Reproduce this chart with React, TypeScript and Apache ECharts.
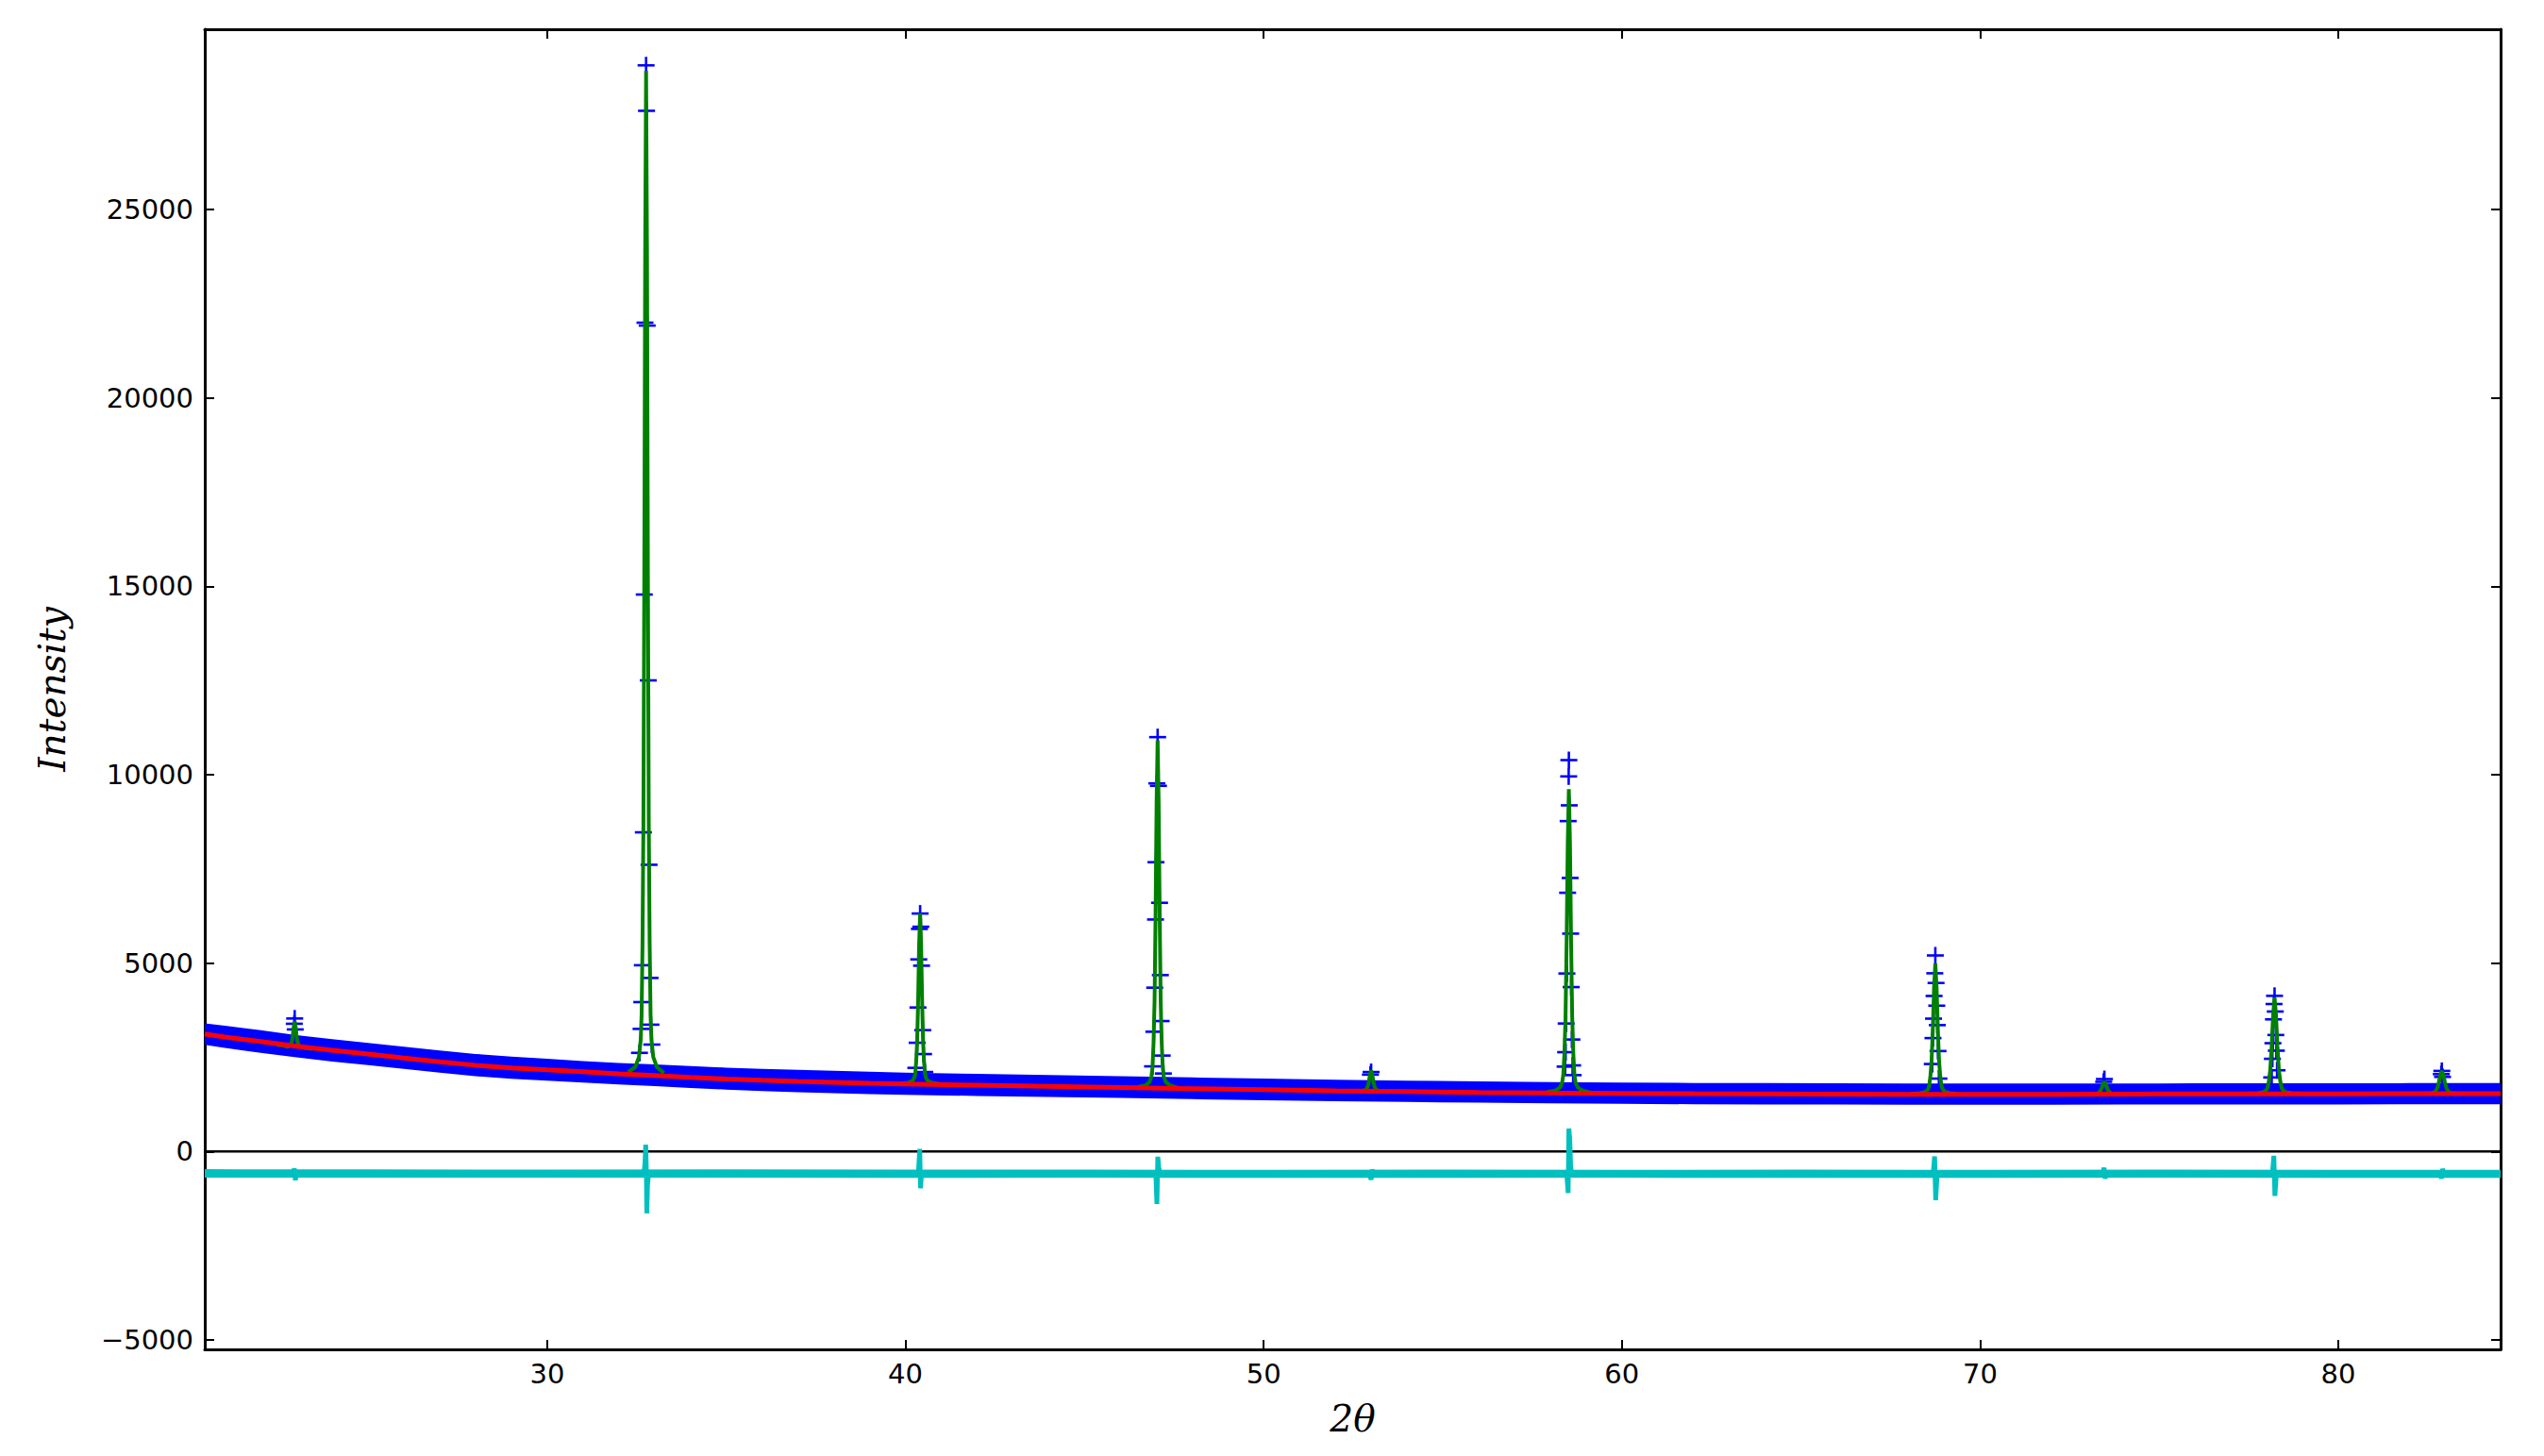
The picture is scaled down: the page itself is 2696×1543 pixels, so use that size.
import { useEffect, useRef } from 'react';
import * as echarts from 'echarts';

// ---------- axis ranges ----------
const X_MIN = 20.44;
const X_MAX = 84.53;
const Y_MIN = -5250;
const Y_MAX = 29780;

// ---------- background (red) ----------
const bgX = [20.44, 21, 22, 23, 24, 25, 26, 27, 28, 29, 30, 31, 32, 33, 34, 35, 36, 37, 38, 39, 40, 42, 44, 46, 48, 50, 52, 54, 56, 58, 60, 62, 64, 66, 68, 70, 72, 74, 76, 78, 80, 82, 84.53];
const bgY = [3120, 3040, 2920, 2795, 2685, 2585, 2480, 2380, 2290, 2220, 2165, 2115, 2060, 2015, 1965, 1925, 1890, 1860, 1835, 1810, 1790, 1760, 1730, 1700, 1670, 1640, 1610, 1590, 1570, 1555, 1545, 1535, 1530, 1525, 1520, 1520, 1520, 1525, 1530, 1530, 1530, 1535, 1535];

// ---------- observed (blue) : dense noisy band envelope ----------
const bandX = [20.44, 21, 22, 23, 24, 25, 26, 27, 28, 29, 30, 31, 32, 33, 34, 35, 36, 37, 38, 39, 40, 42, 44, 46, 48, 50, 52, 54, 56, 58, 60, 62, 64, 66, 68, 70, 72, 74, 76, 78, 80, 82, 84, 84.53];
const bandHi = [3400, 3340, 3220, 3090, 2980, 2880, 2780, 2680, 2590, 2520, 2460, 2400, 2350, 2310, 2270, 2225, 2190, 2165, 2145, 2120, 2095, 2060, 2030, 2000, 1965, 1935, 1905, 1880, 1860, 1845, 1830, 1820, 1815, 1810, 1805, 1805, 1805, 1805, 1810, 1810, 1810, 1815, 1815, 1815];
const bandLo = [2830, 2750, 2620, 2500, 2390, 2290, 2190, 2090, 2000, 1930, 1880, 1830, 1780, 1735, 1685, 1645, 1605, 1575, 1550, 1525, 1505, 1475, 1450, 1420, 1390, 1360, 1335, 1315, 1295, 1280, 1265, 1255, 1250, 1245, 1240, 1240, 1240, 1245, 1250, 1250, 1250, 1255, 1255, 1255];

// ---------- observed (blue +) points at the peaks ----------
const obsPeakX = [
  22.95, 22.94, 22.965,
  32.76, 32.772, 32.729, 32.791, 32.709, 32.82, 32.684, 32.843, 32.655, 32.87, 32.64, 32.895, 32.62, 32.92, 32.575,
  40.41, 40.429, 40.39, 40.371, 40.45, 40.35, 40.484, 40.326, 40.506, 40.29, 40.54,
  47.04, 47.017, 47.063, 46.994, 47.094, 46.981, 47.116, 46.959, 47.138, 46.935, 47.168, 46.898, 47.2,
  53.0, 52.98,
  58.52, 58.515, 58.53, 58.5, 58.555, 58.485, 58.57, 58.465, 58.585, 58.445, 58.605, 58.43, 58.625, 58.415, 58.64,
  68.75, 68.735, 68.77, 68.715, 68.79, 68.7, 68.805, 68.685, 68.825, 68.665, 68.85,
  73.47, 73.45,
  78.22, 78.205, 78.24, 78.19, 78.255, 78.175, 78.27, 78.16, 78.29, 78.14,
  82.89, 82.875, 82.91,
];
const obsPeakY = [
  3530, 3390, 3240,
  28822, 27616, 21994, 21917, 14780, 12502, 8470, 7609, 4943, 4606, 3965, 3366, 3254, 2838, 2618,
  6315, 5965, 5907, 5098, 4931, 3822, 3221, 2886, 2586, 2220, 2110,
  10996, 9769, 9704, 7677, 6600, 6157, 4681, 4348, 3462, 3179, 2546, 2260, 2070,
  2110, 2040,
  10387, 9954, 9186, 8768, 7259, 6866, 5782, 4724, 4363, 3397, 2972, 2636, 2286, 2253, 2027,
  5203, 4730, 4472, 4128, 3870, 3526, 3354, 3010, 2666, 2322, 1935,
  1923, 1850,
  4131, 3914, 3715, 3507, 3092, 2875, 2676, 2460, 2156, 1966,
  2139, 2053, 1980,
];

// ---------- calculated (green) peaks ----------
const calcP1 = [[22.45, 2830], [22.65, 2810], [22.75, 2782], [22.8, 2794], [22.825, 2811], [22.85, 2858], [22.875, 2939], [22.9, 3109], [22.925, 3325], [22.95, 3447], [22.975, 3325], [23.0, 3109], [23.025, 2939], [23.05, 2858], [23.075, 2811], [23.1, 2794], [23.15, 2770], [23.25, 2745], [23.45, 2725]];
const calcP2 = [[32.26, 2110], [32.46, 2243], [32.56, 2510], [32.61, 2963], [32.635, 3629], [32.66, 5495], [32.685, 8693], [32.71, 15355], [32.735, 23883], [32.76, 28680], [32.785, 23883], [32.81, 15355], [32.835, 8693], [32.86, 5495], [32.885, 3629], [32.91, 2963], [32.96, 2510], [33.06, 2243], [33.26, 2080]];
const calcP3 = [[39.86, 1804], [40.08, 1826], [40.19, 1872], [40.245, 1949], [40.2725, 2062], [40.3, 2380], [40.3275, 2924], [40.355, 4058], [40.3825, 5509], [40.41, 6325], [40.4375, 5509], [40.465, 4058], [40.4925, 2924], [40.52, 2380], [40.5475, 2062], [40.575, 1949], [40.63, 1872], [40.74, 1826], [40.96, 1790]];
const calcP4 = [[46.47, 1708], [46.698, 1754], [46.812, 1846], [46.869, 2003], [46.8975, 2234], [46.926, 2880], [46.9545, 3988], [46.983, 6297], [47.0115, 9251], [47.04, 10913], [47.0685, 9251], [47.097, 6297], [47.1255, 3988], [47.154, 2880], [47.1825, 2234], [47.211, 2003], [47.268, 1846], [47.382, 1754], [47.61, 1690]];
const calcP5 = [[52.76, 1615], [52.82, 1624], [52.85, 1638], [52.88, 1676], [52.91, 1741], [52.94, 1878], [52.97, 2052], [53.0, 2150], [53.03, 2052], [53.06, 1878], [53.09, 1741], [53.12, 1676], [53.15, 1638], [53.18, 1624], [53.24, 1610]];
const calcP6 = [[57.9, 1579], [58.148, 1619], [58.272, 1700], [58.334, 1837], [58.365, 2039], [58.396, 2603], [58.427, 3570], [58.458, 5585], [58.489, 8163], [58.52, 9614], [58.551, 8163], [58.582, 5585], [58.613, 3570], [58.644, 2603], [58.675, 2039], [58.706, 1837], [58.768, 1700], [58.892, 1619], [59.14, 1560]];
const calcP7 = [[68.05, 1530], [68.33, 1548], [68.47, 1582], [68.54, 1641], [68.575, 1728], [68.61, 1971], [68.645, 2387], [68.68, 3254], [68.715, 4364], [68.75, 4988], [68.785, 4364], [68.82, 3254], [68.855, 2387], [68.89, 1971], [68.925, 1728], [68.96, 1641], [69.03, 1582], [69.17, 1548], [69.45, 1525]];
const calcP8 = [[73.17, 1531], [73.245, 1536], [73.283, 1545], [73.32, 1568], [73.358, 1607], [73.395, 1689], [73.433, 1794], [73.47, 1853], [73.508, 1794], [73.545, 1689], [73.583, 1607], [73.62, 1568], [73.658, 1545], [73.695, 1536], [73.77, 1531]];
const calcP9 = [[77.42, 1538], [77.74, 1550], [77.9, 1576], [77.98, 1620], [78.02, 1683], [78.06, 1863], [78.1, 2170], [78.14, 2809], [78.18, 3628], [78.22, 4088], [78.26, 3628], [78.3, 2809], [78.34, 2170], [78.38, 1863], [78.42, 1683], [78.46, 1620], [78.54, 1576], [78.7, 1550], [79.02, 1535]];
const calcP10 = [[82.38, 1540], [82.55, 1546], [82.635, 1556], [82.678, 1571], [82.72, 1614], [82.763, 1686], [82.805, 1837], [82.848, 2030], [82.89, 2139], [82.933, 2030], [82.975, 1837], [83.018, 1686], [83.06, 1614], [83.103, 1571], [83.145, 1556], [83.23, 1546], [83.4, 1538]];
const calcPeaks = [calcP1, calcP2, calcP3, calcP4, calcP5, calcP6, calcP7, calcP8, calcP9, calcP10];

// ---------- difference (cyan) ----------
const diffBandX = [20.44, 25, 30, 35, 40, 45, 50, 55, 60, 65, 70, 75, 80, 84.53];
const diffHi = [-470, -475, -480, -475, -480, -480, -485, -480, -485, -480, -485, -480, -485, -485];
const diffLo = [-690, -695, -690, -695, -700, -695, -700, -700, -695, -700, -700, -695, -700, -700];
const diffX = [20.44, 22.9, 22.94, 22.97, 23.0, 32.7, 32.73, 32.75, 32.765, 32.78, 32.8, 32.83, 40.36, 40.4, 40.42, 40.45, 46.99, 47.02, 47.045, 47.07, 47.1, 52.96, 53.0, 53.03, 53.06, 58.46, 58.5, 58.52, 58.545, 58.57, 58.6, 68.69, 68.73, 68.76, 68.8, 73.43, 73.46, 73.49, 73.52, 78.16, 78.2, 78.23, 78.27, 82.85, 82.88, 82.91, 82.95, 84.53];
const diffY = [-590, -590, -450, -760, -590, -590, -300, 180, -400, -1640, -900, -590, -590, 70, -976, -590, -590, -1394, -140, -400, -590, -590, -750, -480, -590, -590, -1100, 610, 340, -400, -590, -590, -130, -1290, -590, -590, -430, -720, -590, -590, -113, -1178, -590, -590, -720, -460, -590, -590];

// ---------- zero line ----------
const zeroX = [X_MIN, X_MAX];
const zeroY = [0, 0];

const zip = (xs: number[], ys: number[]) => xs.map((x, i) => [x, ys[i]]);

function bandRender(xs: number[], hi: number[], lo: number[], color: string) {
  return (_params: any, api: any) => {
    const pts: number[][] = [];
    for (let i = 0; i < xs.length; i++) pts.push(api.coord([xs[i], hi[i]]));
    for (let i = xs.length - 1; i >= 0; i--) pts.push(api.coord([xs[i], lo[i]]));
    return { type: 'polygon', shape: { points: pts }, style: { fill: color } };
  };
}

const FONT = 'DejaVu Sans';
const MATH_FONT = 'DejaVu Serif';

const fmtX = (v: number) => (Math.abs(v % 10) < 1e-9 ? String(v) : '');
const fmtY = (v: number) => {
  if (Math.abs(v % 5000) > 1e-6) return '';
  return v < 0 ? '\u2212' + Math.abs(v) : String(v);
};

export default function App() {
  const ref = useRef<HTMLDivElement>(null);
  useEffect(() => {
    if (!ref.current) return;
    const chart = echarts.init(ref.current, undefined, { renderer: 'svg' });
    const axisLine = { show: true, onZero: false, lineStyle: { color: '#000', width: 3 } };
    const axisTick = { show: true, inside: true, length: 10, lineStyle: { color: '#000', width: 2 } };
    const xCommon = { type: 'value', min: X_MIN, max: X_MAX, splitNumber: 6, splitLine: { show: false }, axisLine, axisTick };
    const yCommon = { type: 'value', min: Y_MIN, max: Y_MAX, splitNumber: 7, splitLine: { show: false }, axisLine, axisTick };
    const option: any = {
      animation: false,
      backgroundColor: '#ffffff',
      grid: { left: 217, right: 46, top: 31, bottom: 113, containLabel: false, outerBoundsMode: 'none' },
      xAxis: [
        {
          ...xCommon,
          position: 'bottom',
          axisLabel: { formatter: fmtX, fontSize: 29, color: '#000', fontFamily: FONT, margin: 11, showMinLabel: false, showMaxLabel: false },
          name: '2θ',
          nameLocation: 'middle',
          nameGap: 54,
          nameTextStyle: { fontSize: 39, fontStyle: 'italic', fontFamily: MATH_FONT, color: '#000' },
        },
        { ...xCommon, position: 'top', axisLabel: { show: false } },
      ],
      yAxis: [
        {
          ...yCommon,
          position: 'left',
          axisLabel: { formatter: fmtY, fontSize: 29, color: '#000', fontFamily: FONT, margin: 12, showMinLabel: false, showMaxLabel: false },
          name: 'Intensity',
          nameLocation: 'middle',
          nameGap: 142,
          nameRotate: 90,
          nameTextStyle: { fontSize: 39, fontStyle: 'italic', fontFamily: MATH_FONT, color: '#000' },
        },
        { ...yCommon, position: 'right', axisLabel: { show: false } },
      ],
      series: [
        {
          type: 'custom',
          name: 'obs-band',
          clip: true,
          silent: true,
          data: [[bandX[0], bandHi[0]]],
          renderItem: bandRender(bandX, bandHi, bandLo, '#0000ff'),
        },
        {
          type: 'custom',
          name: 'obs',
          clip: true,
          silent: true,
          data: zip(obsPeakX, obsPeakY),
          renderItem: (_p: any, api: any) => {
            const c = api.coord([api.value(0), api.value(1)]);
            const s = { stroke: '#0000ff', lineWidth: 2.6 };
            return {
              type: 'group',
              children: [
                { type: 'line', shape: { x1: c[0] - 9, y1: c[1], x2: c[0] + 9, y2: c[1] }, style: s },
                { type: 'line', shape: { x1: c[0], y1: c[1] - 9, x2: c[0], y2: c[1] + 9 }, style: s },
              ],
            };
          },
        },
        ...calcPeaks.map((pk, i) => ({
          type: 'line',
          name: 'calc' + i,
          data: pk,
          showSymbol: false,
          symbol: 'none',
          silent: true,
          lineStyle: { color: '#008000', width: 4 },
        })),
        {
          type: 'line',
          name: 'bg',
          data: zip(bgX, bgY),
          showSymbol: false,
          symbol: 'none',
          silent: true,
          lineStyle: { color: '#ff0000', width: 5 },
        },
        {
          type: 'custom',
          name: 'diff-band',
          clip: true,
          silent: true,
          data: [[diffBandX[0], diffHi[0]]],
          renderItem: bandRender(diffBandX, diffHi, diffLo, '#00bfbf'),
        },
        {
          type: 'line',
          name: 'zero',
          data: zip(zeroX, zeroY),
          showSymbol: false,
          symbol: 'none',
          silent: true,
          lineStyle: { color: '#000', width: 2.5 },
        },
        {
          type: 'line',
          name: 'diff',
          data: zip(diffX, diffY),
          showSymbol: false,
          symbol: 'none',
          silent: true,
          lineStyle: { color: '#00bfbf', width: 5 },
        },
      ],
    };
    chart.setOption(option);
    return () => chart.dispose();
  }, []);
  return <div ref={ref} style={{ position: 'fixed', left: 0, top: 0, width: 2696, height: 1543, background: '#fff' }} />;
}
